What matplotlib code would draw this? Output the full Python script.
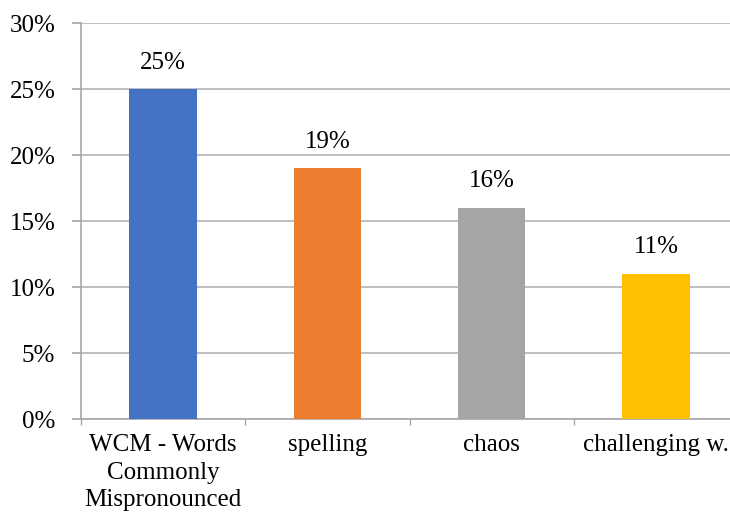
from matplotlib import pyplot as plt
from matplotlib.ticker import PercentFormatter

categories = ['WCM - Words\nCommonly\nMispronounced', 'spelling', 'chaos', 'challenging w.']
shares = [25, 19, 16, 11]
cols = ['#4472C4', '#ED7D31', '#A5A5A5', '#FFC000']

plt.rcParams['font.family'] = ['Liberation Serif', 'DejaVu Serif']

fig = plt.figure(figsize=(7.3, 5.12), dpi=100)
ax = fig.add_axes([0.111, 0.1816, 0.9, 0.7734])

x = range(len(categories))
bars = ax.bar(x, shares, width=0.41, color=cols, zorder=3)

for b, v in zip(bars, shares):
    ax.annotate(f'{v}%', (b.get_x() + b.get_width() / 2, v),
                xytext=(0, 19), textcoords='offset points',
                ha='center', va='center', fontsize=18)

ax.set_xlim(-0.5, len(categories) - 0.5)
ax.set_ylim(0, 30)
ax.set_yticks(range(0, 31, 5))
ax.yaxis.set_major_formatter(PercentFormatter(decimals=0))
ax.yaxis.grid(True, color='#b3b3b3', linewidth=1.2, zorder=0)

ax.set_xticks(list(x))
ax.set_xticklabels(categories, fontsize=18, linespacing=1.32)
ax.set_xticks([i - 0.5 for i in range(len(categories) + 1)], minor=True)
ax.tick_params(axis='x', which='major', length=0, pad=11)
ax.tick_params(axis='x', which='minor', length=4, color='#a6a6a6', width=1)
ax.tick_params(axis='y', length=6.5, color='#a6a6a6', width=1.2, pad=12, labelsize=18)

for s in ['top', 'right']:
    ax.spines[s].set_visible(False)
for s in ['left', 'bottom']:
    ax.spines[s].set_color('#a6a6a6')
    ax.spines[s].set_linewidth(1.2)

fig.savefig('out.png', dpi=100)
